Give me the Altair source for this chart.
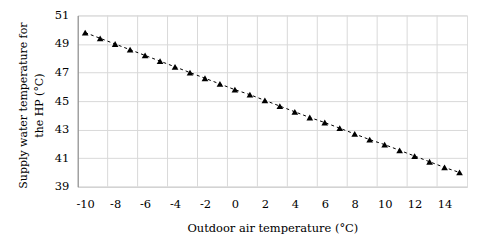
import altair as alt
import pandas as pd

outdoor_temp = list(range(-10, 16))
supply_temp = [49.8, 49.4, 49.0, 48.6, 48.2, 47.8, 47.4, 47.0, 46.6, 46.2, 45.8, 45.45, 45.05,
               44.65, 44.25, 43.85, 43.5, 43.1, 42.7, 42.3, 41.95, 41.55, 41.15, 40.75, 40.35, 40.0]
x_ticks = list(range(-10, 15, 2))
y_ticks = [39, 41, 43, 45, 47, 49, 51]
x_grid = [-8.5 + 2 * i for i in range(12)]

df = pd.DataFrame({"t": outdoor_temp, "s": supply_temp})
grid_df = pd.DataFrame({"g": x_grid})

FONT = "DejaVu Serif"
FS = 11.5

xscale = alt.Scale(domain=[-10.5, 15.5], nice=False, zero=False)
yscale = alt.Scale(domain=[39, 51], nice=False, zero=False)

xaxis = alt.Axis(values=x_ticks, title="Outdoor air temperature (°C)", grid=False,
                 ticks=False, domainColor="#d0d0d0", labelPadding=12,
                 labelOverlap=False, labelExpr="toString(datum.value)",
                 labelFont=FONT, labelFontSize=FS, labelColor="#000",
                 titleFont=FONT, titleFontSize=FS, titleFontWeight="normal",
                 titleColor="#000", titlePadding=12)

vgrid = alt.Chart(grid_df).mark_rule(color="#d9d9d9", strokeWidth=1).encode(
    x=alt.X("g:Q", scale=xscale, axis=xaxis)
)

base = alt.Chart(df).encode(
    x=alt.X("t:Q", scale=xscale, axis=xaxis),
    y=alt.Y("s:Q", scale=yscale,
            axis=alt.Axis(values=y_ticks, title=["Supply  water temperature for", "the HP (°C)"],
                          grid=True, gridColor="#d9d9d9", ticks=False, domainColor="#808080",
                          labelPadding=9, labelOverlap=False,
                          labelFont=FONT, labelFontSize=FS, labelColor="#000",
                          titleFont=FONT, titleFontSize=11, titleFontWeight="normal",
                          titleColor="#000", titlePadding=10, titleLineHeight=16,
                          titleY=90)),
)

line = base.mark_line(color="#000", strokeWidth=1, strokeDash=[3, 3])
pts = base.mark_point(shape="triangle-up", filled=True, color="#000", size=45, opacity=1)

chart = alt.layer(vgrid, line, pts).properties(
    width=391, height=172,
    autosize=alt.AutoSizeParams(type="none"),
    padding={"left": 70, "top": 7, "right": 5, "bottom": 53},
).configure_view(stroke="#8c8c8c", strokeWidth=1).configure_axis(
    labelOverlap=False
).configure(background="white")

chart.save("out.html", embed_options={"renderer": "svg", "actions": False})
